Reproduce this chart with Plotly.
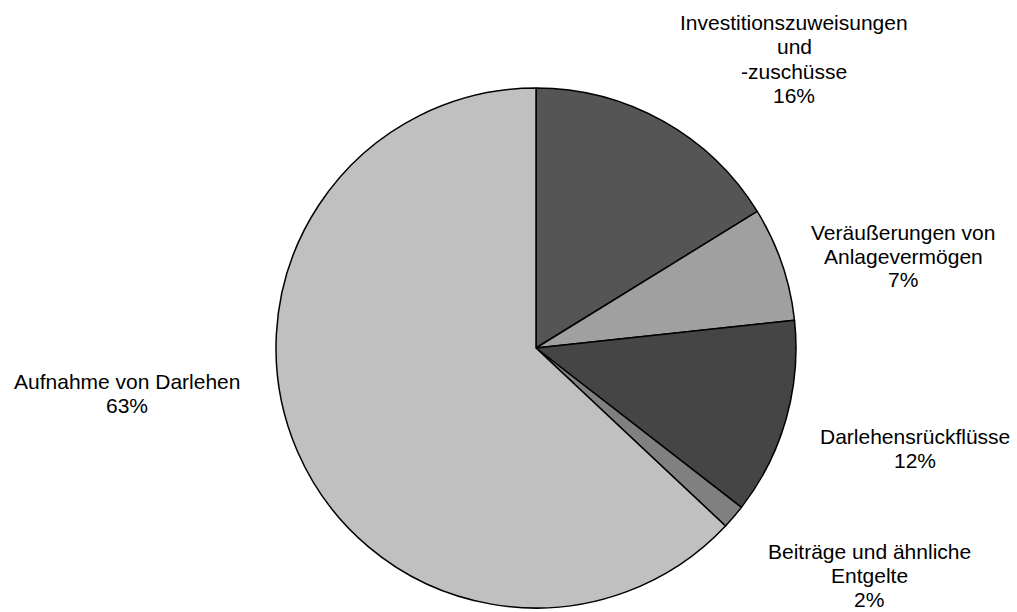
import plotly.graph_objects as go

labels = [
    "Investitionszuweisungen und -zuschüsse",
    "Veräußerungen von Anlagevermögen",
    "Darlehensrückflüsse",
    "Beiträge und ähnliche Entgelte",
    "Aufnahme von Darlehen",
]
label_lines = [
    ["Investitionszuweisungen", "und", "-zuschüsse"],
    ["Veräußerungen von", "Anlagevermögen"],
    ["Darlehensrückflüsse"],
    ["Beiträge und ähnliche", "Entgelte"],
    ["Aufnahme von Darlehen"],
]
values = [16.2, 7.1, 12.2, 1.5, 63.0]
colors = ["#555555", "#a0a0a0", "#454545", "#808080", "#c0c0c0"]

W, H = 1017, 612
cx, cy, r = 536, 348, 260

fig = go.Figure(go.Pie(
    labels=labels,
    values=values,
    sort=False,
    direction="clockwise",
    rotation=0,
    marker=dict(colors=colors, line=dict(color="#000000", width=1.5)),
    textinfo="none",
    hoverinfo="label+percent",
    domain=dict(x=[(cx - r) / W, (cx + r) / W], y=[1 - (cy + r) / H, 1 - (cy - r) / H]),
))

# label block centres (pixels)
label_pos = [(794, 59), (903, 256), (915, 448), (869, 575), (127, 393)]
line_h = 24
total = sum(values)
annotations = []
for lines, v, (px, py) in zip(label_lines, values, label_pos):
    pct = int(v / total * 100 + 0.5)
    all_lines = lines + [f"{pct}%"]
    n = len(all_lines)
    for i, t in enumerate(all_lines):
        yy = py + (i - (n - 1) / 2) * line_h
        annotations.append(dict(
            x=px / W, y=1 - yy / H, xref="paper", yref="paper",
            text=t, showarrow=False, xanchor="center", yanchor="middle",
            font=dict(family="Liberation Sans, Arial, sans-serif", size=21, color="#000000"),
        ))

fig.update_layout(
    width=W, height=H,
    margin=dict(l=0, r=0, t=0, b=0),
    paper_bgcolor="#ffffff",
    plot_bgcolor="#ffffff",
    showlegend=False,
    annotations=annotations,
)

fig.write_html(
    "out.html",
    config={"displayModeBar": False},
    post_script="document.body.style.margin='0';document.body.style.overflow='hidden';",
)
